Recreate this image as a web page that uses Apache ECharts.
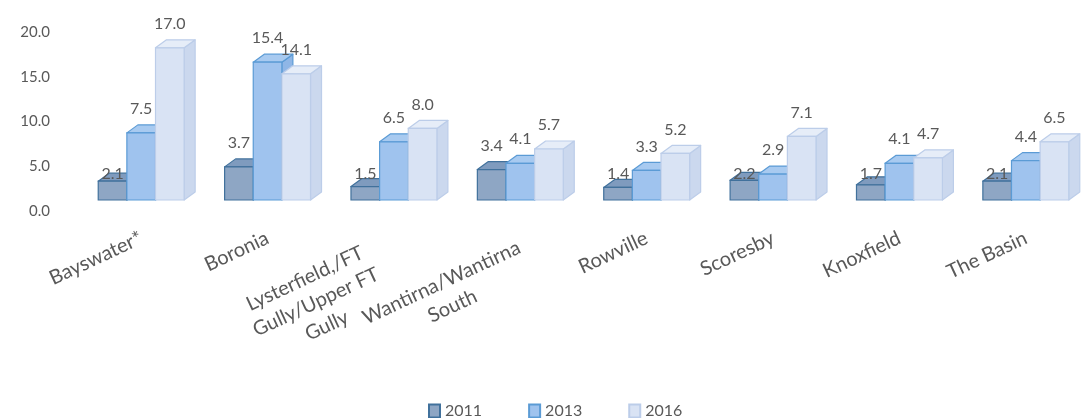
<!DOCTYPE html>
<html>
<head>
<meta charset="utf-8">
<script src="https://cdn.jsdelivr.net/npm/echarts@6/dist/echarts.min.js"></script>
<style>html,body{margin:0;padding:0;background:#fff}#c{width:1089px;height:418px}</style>
</head>
<body>
<div id="c"></div>
<script>
var categories = ['Bayswater*', 'Boronia', 'Lysterfield,/FT\nGully/Upper FT\nGully', 'Wantirna/Wantirna\nSouth', 'Rowville', 'Scoresby', 'Knoxfield', 'The Basin'];
var seriesNames = ['2011', '2013', '2016'];
var values2011 = [2.1, 3.7, 1.5, 3.4, 1.4, 2.2, 1.7, 2.1];
var values2013 = [7.5, 15.4, 6.5, 4.1, 3.3, 2.9, 4.1, 4.4];
var values2016 = [17.0, 14.1, 8.0, 5.7, 5.2, 7.1, 4.7, 6.5];
var yTicks = [0, 5, 10, 15, 20];

var styles = [
  {front: '#8ea6c4', top: '#7f9bbe', side: '#6f8cb2', border: '#41719c'},
  {front: '#9fc3ee', top: '#a8caf0', side: '#8fb6e6', border: '#5b9bd5'},
  {front: '#d9e3f4', top: '#e6edf8', side: '#cbd8ee', border: '#bccde9'}
];

var FONT = 'Lato, "Open Sans", sans-serif';
var LABEL_LH = 26;
var labelShift = {2: {down: 0, left: 30}, 3: {down: 8, left: 5}};

function makeRender(si) {
  return function (params, api) {
    var cat = api.value(0);
    var val = api.value(1);
    var center = api.coord([cat, 0]);
    var topPt = api.coord([cat, val]);
    var band = api.size([1, 0])[0];
    var bw = band * 0.2266;
    var shiftY = -11;
    var dx = 11, dy = -8;
    var x0 = center[0] - bw * 1.5 + si * bw;
    var x1 = x0 + bw;
    var yb = center[1] + shiftY;
    var yt = topPt[1] + shiftY;
    var st = styles[si];
    var lw = 1.2;
    var children = [
      {type: 'polygon', shape: {points: [[x1, yb], [x1 + dx, yb + dy], [x1 + dx, yt + dy], [x1, yt]]},
       style: {fill: st.side, stroke: st.border, lineWidth: lw, lineJoin: 'round'}},
      {type: 'polygon', shape: {points: [[x0, yt], [x1, yt], [x1 + dx, yt + dy], [x0 + dx, yt + dy]]},
       style: {fill: st.top, stroke: st.border, lineWidth: lw, lineJoin: 'round'}},
      {type: 'rect', shape: {x: x0, y: yt, width: bw, height: yb - yt},
       style: {fill: st.front, stroke: st.border, lineWidth: lw}}
    ];
    var ly = val < 2.5 ? yb - 26 : yt - 24;
    children.push({
      type: 'text', z2: 100,
      style: {text: val.toFixed(1), x: (x0 + x1) / 2, y: ly, align: 'center', verticalAlign: 'middle',
              fill: '#595959', font: '16px ' + FONT}
    });
    return {type: 'group', children: children};
  };
}

var allValues = [values2011, values2013, values2016];
var series = seriesNames.map(function (name, si) {
  return {
    name: name,
    type: 'custom',
    renderItem: makeRender(si),
    encode: {x: 0, y: 1},
    itemStyle: {color: styles[si].front, borderColor: styles[si].border, borderWidth: 1},
    data: allValues[si].map(function (v, i) { return [i, v]; })
  };
});

var xData = categories.map(function (c, i) {
  var lines = c.split('\n');
  if (lines.length === 1) return c;
  var s = labelShift[i] || {down: 0, left: 0};
  return {
    value: c,
    textStyle: {padding: [LABEL_LH * (lines.length - 1) + 2 * s.down, s.left, 0, 0]}
  };
});

var chart = echarts.init(document.getElementById('c'), null, {renderer: 'canvas'});
chart.setOption({
  animation: false,
  backgroundColor: '#ffffff',
  textStyle: {fontFamily: FONT},
  grid: {left: 78, right: -13, top: 32, height: 179, containLabel: false},
  legend: {
    top: 398, left: 423, itemWidth: 11, itemHeight: 13, itemGap: 46,
    icon: 'rect',
    textStyle: {fontSize: 16, color: '#595959', fontFamily: FONT},
    data: seriesNames
  },
  xAxis: {
    type: 'category', data: xData,
    axisLine: {show: false}, axisTick: {show: false}, splitLine: {show: false},
    axisLabel: {
      interval: 0, rotate: 25, fontSize: 20, color: '#595959', margin: 26, fontFamily: FONT, lineHeight: LABEL_LH,
      formatter: function (v) {
        return v.split('\n').map(function (l) { return '{c|' + l + '}'; }).join('\n');
      },
      rich: {c: {align: 'center', fontSize: 20, color: '#595959', fontFamily: FONT, lineHeight: LABEL_LH}}
    }
  },
  yAxis: {
    type: 'value', min: yTicks[0], max: yTicks[yTicks.length - 1], interval: 5,
    axisLine: {show: false}, axisTick: {show: false}, splitLine: {show: false},
    axisLabel: {fontSize: 15, color: '#595959', margin: 28, fontFamily: FONT,
                formatter: function (v) { return v.toFixed(1); }}
  },
  series: series
});
</script>
</body>
</html>
